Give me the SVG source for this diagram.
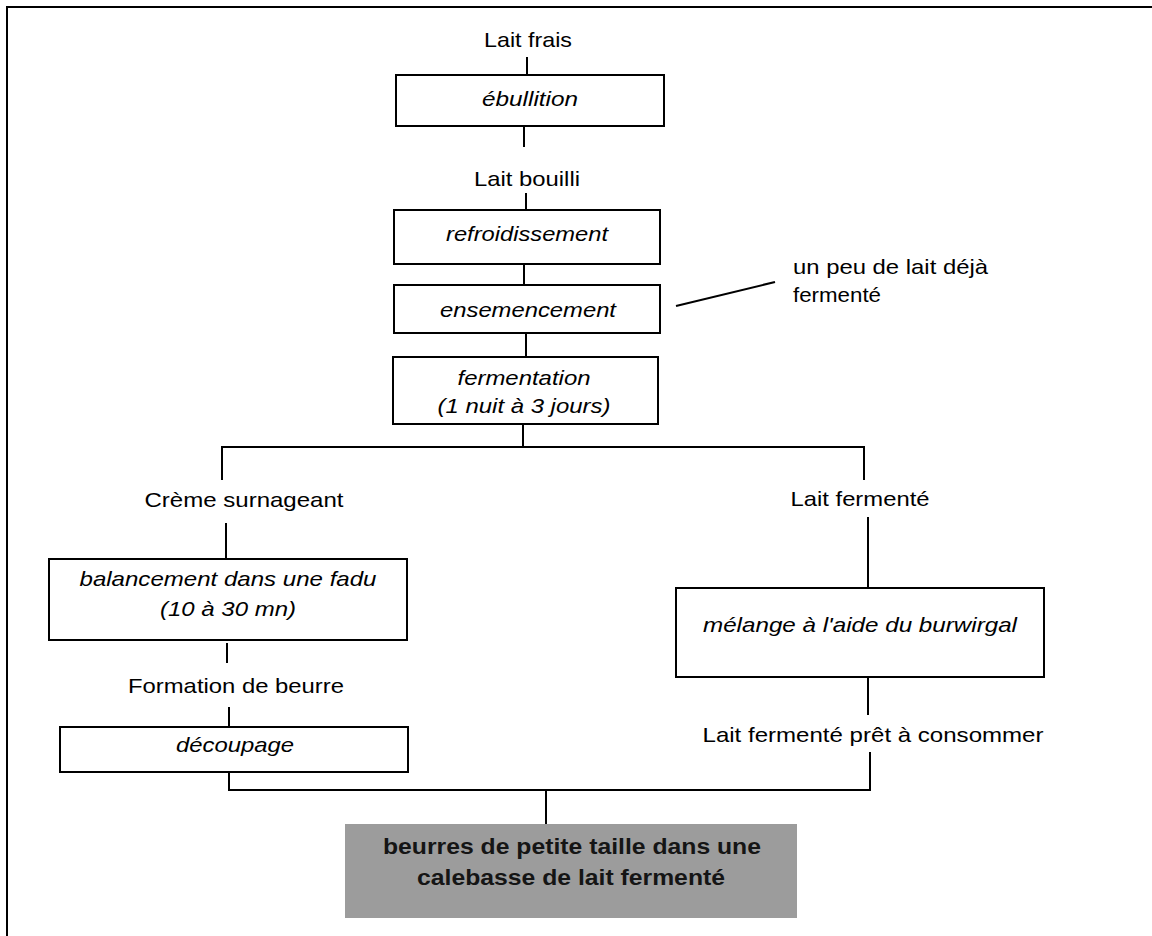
<svg xmlns="http://www.w3.org/2000/svg" width="1152" height="936" viewBox="0 0 1152 936">
<style>
.box{fill:#fff;stroke:#000;stroke-width:2}
.ln{stroke:#000;stroke-width:2;fill:none}
.t{font-family:"Liberation Sans",Arial,sans-serif;font-size:21px;fill:#000;text-anchor:middle}
.i{font-style:italic}
.s{text-anchor:start}
.g{font-family:"Liberation Sans",Arial,sans-serif;font-size:21.5px;font-weight:bold;fill:#151515;text-anchor:middle}
</style>
<rect x="0" y="0" width="1152" height="936" fill="#fff"/>
<g id="frame">
<path class="ln" d="M7,936 V7 H1152"/>
</g>
<g id="connectors">
<path class="ln" d="M527,57 V75"/>
<path class="ln" d="M524,126 V147"/>
<path class="ln" d="M526,193 V210"/>
<path class="ln" d="M524,264 V285"/>
<path class="ln" d="M526,333 V357"/>
<path class="ln" d="M523,424 V447"/>
<path class="ln" d="M222,480 V447 H864 V480"/>
<path class="ln" d="M226,523 V559"/>
<path class="ln" d="M227,643 V663"/>
<path class="ln" d="M229,707 V727"/>
<path class="ln" d="M868,517 V588"/>
<path class="ln" d="M868,677 V715"/>
<path class="ln" d="M229,772 V790 H870 V752"/>
<path class="ln" d="M546,790 V824"/>
<path class="ln" d="M676,306 L775,282"/>
</g>
<g id="lait-frais"><text class="t" x="528" y="47" textLength="88" lengthAdjust="spacingAndGlyphs">Lait frais</text></g>
<g id="ebullition"><rect class="box" x="396" y="75" width="268" height="51"/><text class="t i" x="530" y="106" textLength="96" lengthAdjust="spacingAndGlyphs">ébullition</text></g>
<g id="lait-bouilli"><text class="t" x="527" y="186" textLength="106" lengthAdjust="spacingAndGlyphs">Lait bouilli</text></g>
<g id="refroidissement"><rect class="box" x="394" y="210" width="266" height="54"/><text class="t i" x="527" y="241" textLength="162" lengthAdjust="spacingAndGlyphs">refroidissement</text></g>
<g id="ensemencement"><rect class="box" x="394" y="285" width="266" height="48"/><text class="t i" x="528" y="317" textLength="176" lengthAdjust="spacingAndGlyphs">ensemencement</text></g>
<g id="ajout"><text class="t s" x="793" y="274" textLength="195" lengthAdjust="spacingAndGlyphs">un peu de lait déjà</text><text class="t s" x="793" y="302" textLength="88" lengthAdjust="spacingAndGlyphs">fermenté</text></g>
<g id="fermentation"><rect class="box" x="393" y="357" width="265" height="67"/><text class="t i" x="524" y="385" textLength="133" lengthAdjust="spacingAndGlyphs">fermentation</text><text class="t i" x="524" y="413" textLength="173" lengthAdjust="spacingAndGlyphs">(1 nuit à 3 jours)</text></g>
<g id="creme"><text class="t" x="244" y="507" textLength="199" lengthAdjust="spacingAndGlyphs">Crème surnageant</text></g>
<g id="balancement"><rect class="box" x="49" y="559" width="358" height="81"/><text class="t i" x="228" y="586" textLength="297" lengthAdjust="spacingAndGlyphs">balancement dans une fadu</text><text class="t i" x="228" y="616" textLength="136" lengthAdjust="spacingAndGlyphs">(10 à 30 mn)</text></g>
<g id="formation"><text class="t" x="236" y="693" textLength="216" lengthAdjust="spacingAndGlyphs">Formation de beurre</text></g>
<g id="decoupage"><rect class="box" x="60" y="727" width="348" height="45"/><text class="t i" x="235" y="752" textLength="118" lengthAdjust="spacingAndGlyphs">découpage</text></g>
<g id="lait-fermente"><text class="t" x="860" y="506" textLength="139" lengthAdjust="spacingAndGlyphs">Lait fermenté</text></g>
<g id="melange"><rect class="box" x="676" y="588" width="368" height="89"/><text class="t i" x="860" y="632" textLength="314" lengthAdjust="spacingAndGlyphs">mélange à l'aide du burwirgal</text></g>
<g id="pret"><text class="t" x="873" y="742" textLength="341" lengthAdjust="spacingAndGlyphs">Lait fermenté prêt à consommer</text></g>
<g id="resultat"><rect x="345" y="824" width="452" height="94" fill="#9c9c9c"/><text class="g" x="572" y="854" textLength="378" lengthAdjust="spacingAndGlyphs">beurres de petite taille dans une</text><text class="g" x="571" y="885" textLength="308" lengthAdjust="spacingAndGlyphs">calebasse de lait fermenté</text></g>
</svg>
